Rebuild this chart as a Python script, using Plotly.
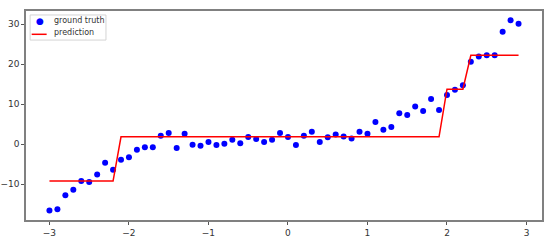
import plotly.graph_objects as go

# x positions of the samples
x_vals = [-3.0, -2.9, -2.8, -2.7, -2.6, -2.5, -2.4, -2.3, -2.2, -2.1,
          -2.0, -1.9, -1.8, -1.7, -1.6, -1.5, -1.4, -1.3, -1.2, -1.1,
          -1.0, -0.9, -0.8, -0.7, -0.6, -0.5, -0.4, -0.3, -0.2, -0.1,
          0.0, 0.1, 0.2, 0.3, 0.4, 0.5, 0.6, 0.7, 0.8, 0.9,
          1.0, 1.1, 1.2, 1.3, 1.4, 1.5, 1.6, 1.7, 1.8, 1.9,
          2.0, 2.1, 2.2, 2.3, 2.4, 2.5, 2.6, 2.7, 2.8, 2.9]

# ground truth (blue dots)
truth = [-16.6, -16.3, -12.8, -11.4, -9.25, -9.5, -7.6, -4.7, -6.4, -3.9,
         -3.3, -1.4, -0.8, -0.8, 2.1, 2.8, -1.0, 2.6, -0.2, -0.4,
         0.5, -0.25, 0.1, 1.1, 0.2, 1.75, 1.25, 0.5, 1.1, 2.8,
         1.75, -0.25, 2.1, 3.1, 0.5, 1.7, 2.4, 1.9, 1.4, 3.1,
         2.6, 5.5, 3.6, 4.25, 7.7, 7.25, 9.4, 8.25, 11.3, 8.5,
         12.25, 13.6, 14.75, 20.6, 21.9, 22.2, 22.2, 28.1, 31.0, 30.1]

# model prediction (red line)
pred = [-9.25] * 9 + [1.83] * 41 + [13.75] * 3 + [22.2] * 7

BLUE = '#0000ff'
RED = '#ff0000'
FONT = 'DejaVu Sans'

fig = go.Figure()
fig.add_trace(go.Scatter(x=x_vals, y=truth, mode='markers', name='ground truth',
                         marker=dict(color=BLUE, size=6)))
fig.add_trace(go.Scatter(x=x_vals, y=pred, mode='lines', name='prediction',
                         line=dict(color=RED, width=1.5)))

axis_style = dict(showgrid=False, zeroline=False, showline=True, mirror=True,
                  linecolor='#808080', linewidth=1.5, ticks='outside',
                  ticklen=3, tickcolor='#555555', automargin=False,
                  tickfont=dict(family=FONT, size=9, color='#333333'))

# small matplotlib-style legend box, drawn in paper coordinates
fig.add_shape(type='rect', xref='paper', yref='paper',
              x0=0.008, x1=0.155, y0=0.861, y1=0.981,
              line=dict(color='#d4d4d4', width=1), fillcolor='white')
fig.add_shape(type='line', xref='paper', yref='paper',
              x0=0.011, x1=0.040, y0=0.8885, y1=0.8885,
              line=dict(color=RED, width=1.5))
fig.add_annotation(xref='paper', yref='paper', x=0.0271, y=0.951,
                   text='●', showarrow=False, xanchor='center', yanchor='middle',
                   font=dict(family=FONT, size=9, color=BLUE))
for label, ypos in [('ground truth', 0.9536), ('prediction', 0.896)]:
    fig.add_annotation(xref='paper', yref='paper', x=0.051, y=ypos,
                       text=label, showarrow=False, xanchor='left', yanchor='middle',
                       font=dict(family=FONT, size=8, color='#333333'))

fig.update_layout(
    width=550, height=240,
    margin=dict(l=26, r=8, t=11, b=20),
    plot_bgcolor='white', paper_bgcolor='white',
    xaxis=dict(range=[-3.295, 3.195], tickvals=[-3, -2, -1, 0, 1, 2, 3], **axis_style),
    yaxis=dict(range=[-19, 33.3], tickvals=[-10, 0, 10, 20, 30], **axis_style),
    showlegend=False,
)

fig.write_html("out.html", config={'displayModeBar': False},
               post_script="document.body.style.margin='0';")
